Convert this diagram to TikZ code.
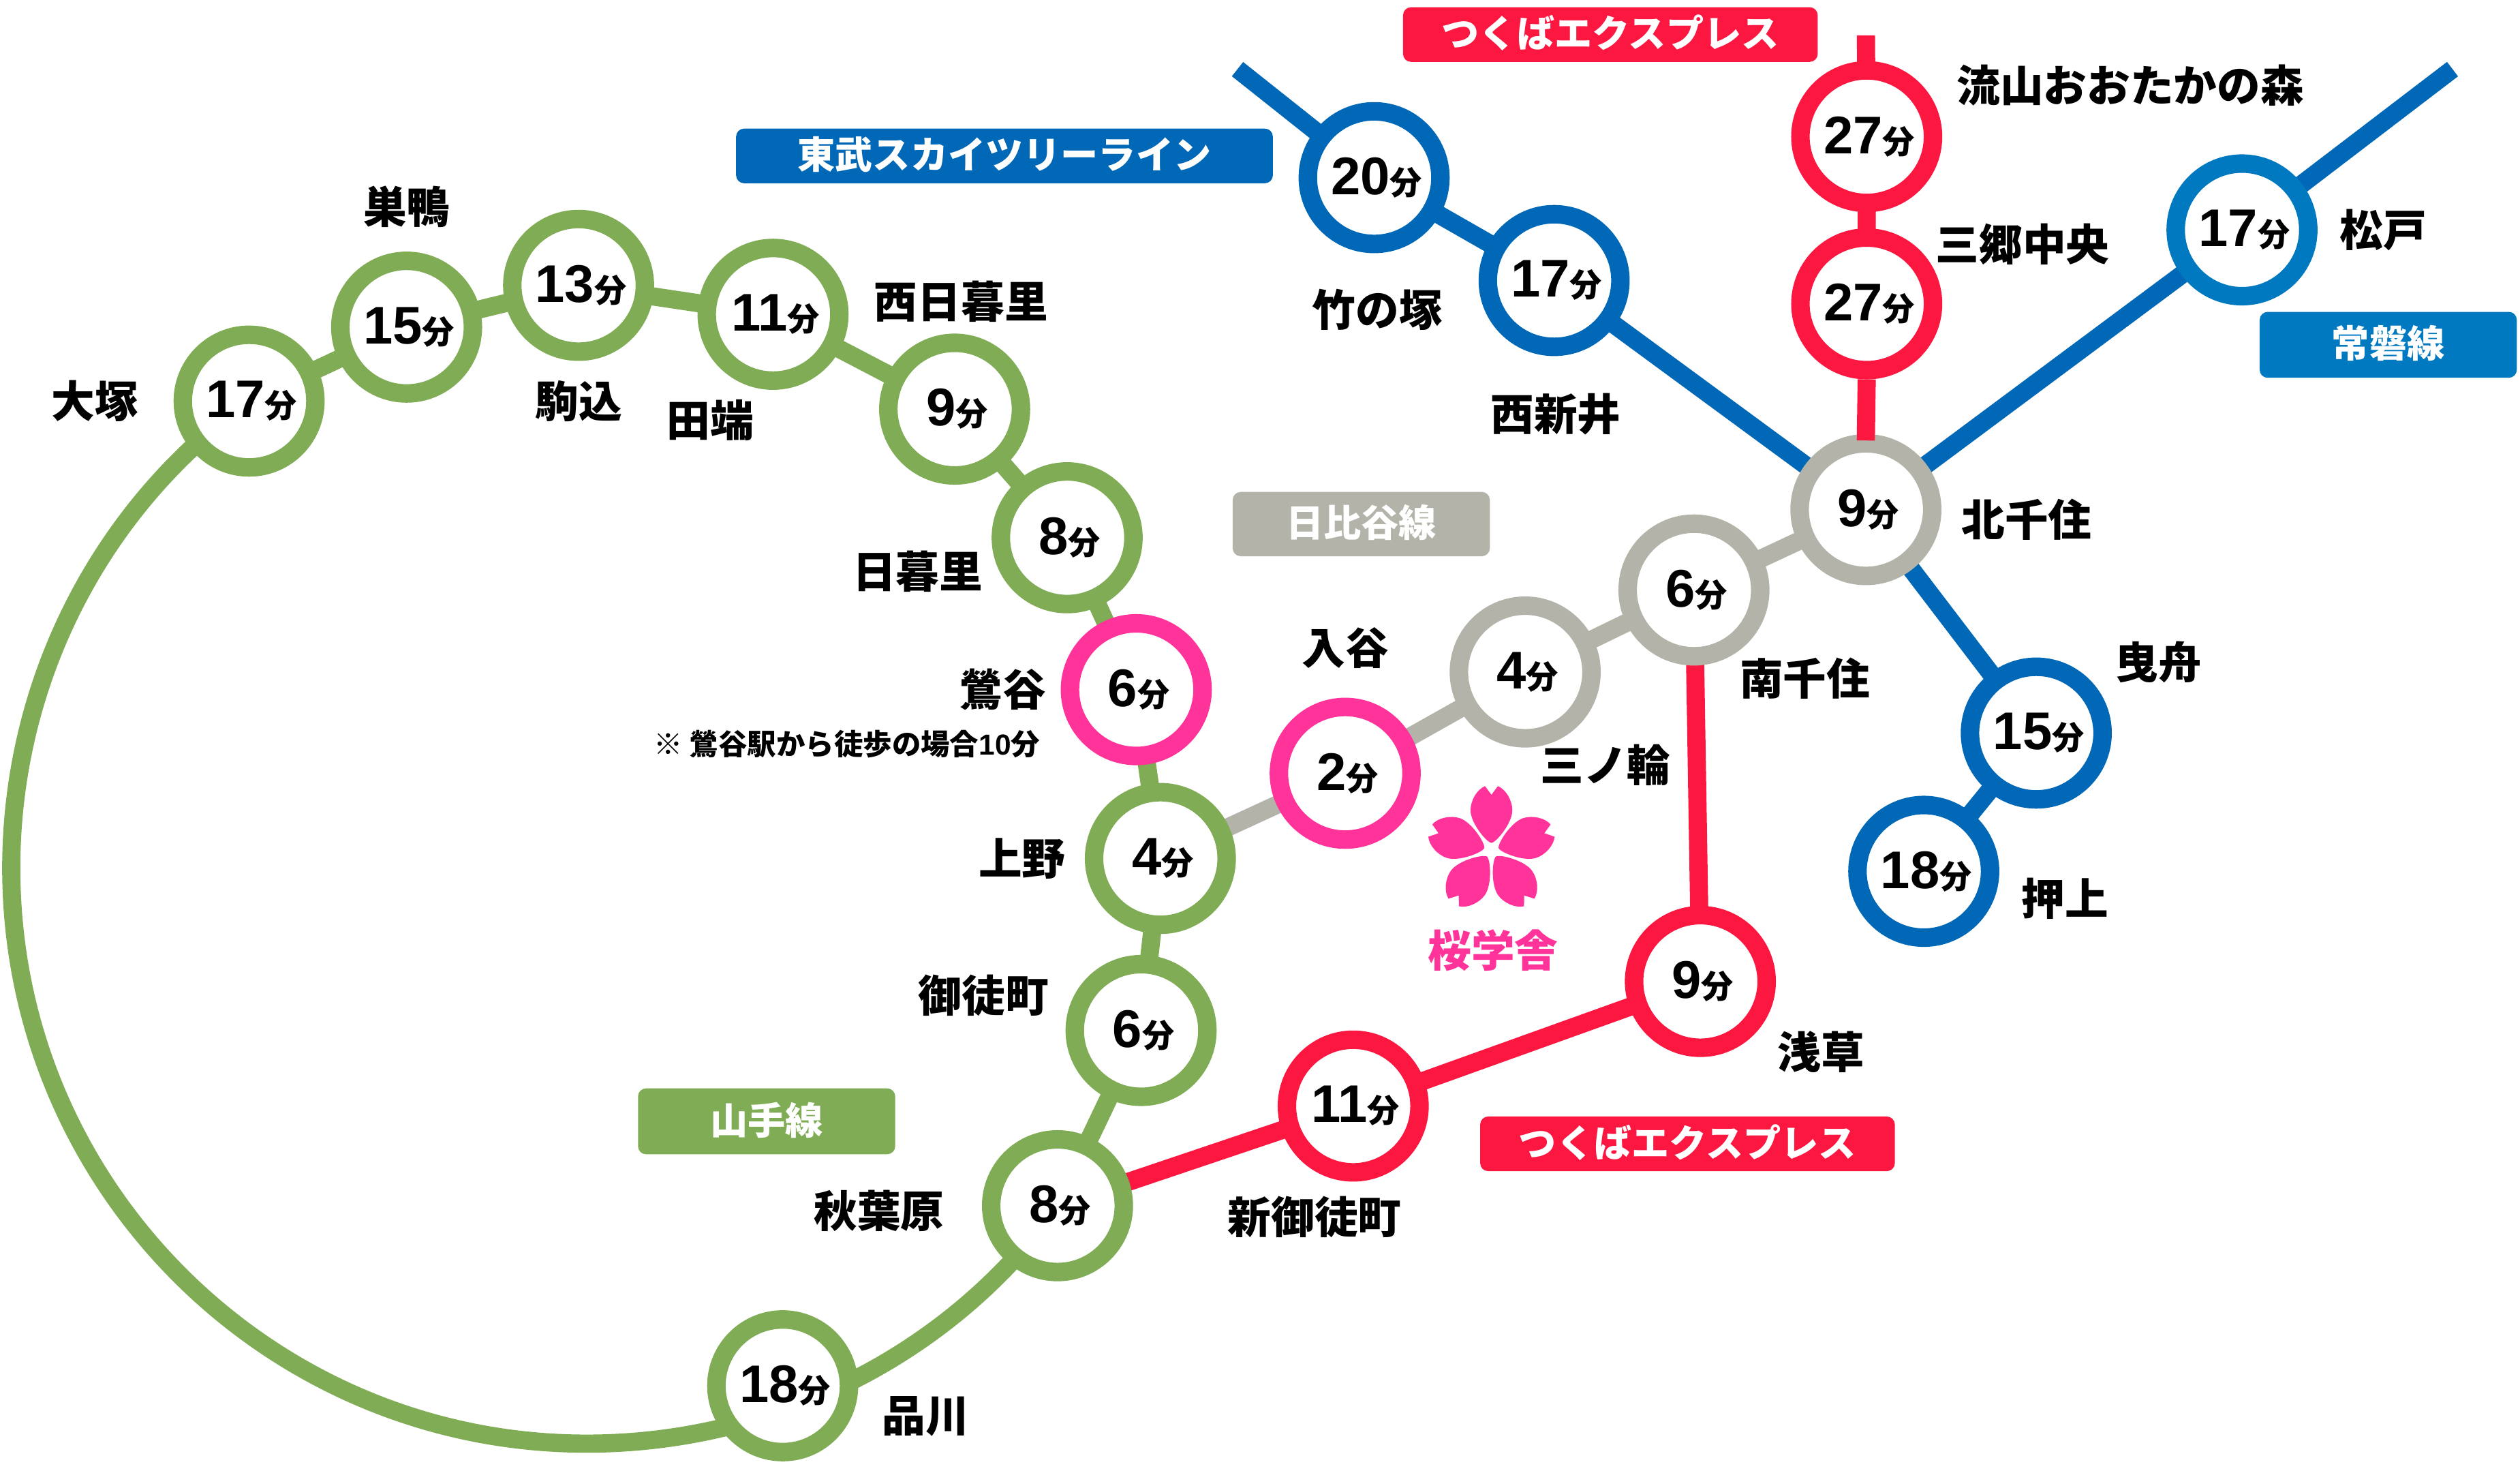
\documentclass[tikz,border=0pt]{standalone}
\usepackage{fontspec}
\setmainfont{Noto Sans CJK JP}
\newfontfamily\digitfont{Liberation Sans}
\usetikzlibrary{positioning,backgrounds}

\definecolor{yamanote}{HTML}{7FAC55}
\definecolor{sakura}{HTML}{FF3399}
\definecolor{hibiya}{HTML}{B3B3A9}
\definecolor{tobu}{HTML}{0068B7}
\definecolor{joban}{HTML}{0079C1}
\definecolor{tx}{HTML}{FC1741}

\newcommand{\mins}[1]{\kern3pt{\digitfont\fontsize{33}{33}\selectfont #1}{\fontsize{20}{20}\selectfont 分}}

\begin{document}
\begin{tikzpicture}
[
  x=1pt,
  y=-1pt,
  on grid,
  station/.style={circle,draw=#1,line width=11.5pt,fill=white,minimum size=82.5pt,inner sep=0pt,text=black},
  stationname/.style={font=\bfseries\fontsize{27}{27}\selectfont,inner sep=0pt},
  linename/.style={fill=#1,rounded corners=5pt,text=white,inner sep=0pt,minimum height=34pt,text depth=4pt,font=\bfseries\fontsize{23.4}{23.4}\selectfont},
  track/.style={draw=#1,line width=11.3pt},
  font=\bfseries
]
 \useasboundingbox (0,0) rectangle (1568,915);

 % yamanote line
 \node[station=yamanote] (ootsuka) at (155,249.5) {\mins{17}};
 \node[station=yamanote] (sugamo) at (253,203.5) {\mins{15}};
 \node[station=yamanote] (komagome) at (360,177.5) {\mins{13}};
 \node[station=yamanote] (tabata) at (481,195.5) {\mins{11}};
 \node[station=yamanote] (nishinippori) at (594,254.5) {\mins{9}};
 \node[station=yamanote] (nippori) at (664,334.5) {\mins{8}};
 \node[station=sakura] (uguisudani) at (707,429) {\mins{6}};
 \node[station=yamanote] (ueno) at (722,534) {\mins{4}};
 \node[station=yamanote] (okachimachi) at (710,641) {\mins{6}};
 \node[station=yamanote] (akihabara) at (658,750) {\mins{8}};
 \node[station=yamanote] (shinagawa) at (487,862) {\mins{18}};

 % hibiya line
 \node[station=sakura] (iriya) at (837,481) {\mins{2}};
 \node[station=hibiya] (minowa) at (949,418) {\mins{4}};
 \node[station=hibiya] (minamisenju) at (1054,367) {\mins{6}};
 \node[station=hibiya] (kitasenju) at (1161,317) {\mins{9}};

 % tsukuba express
 \node[station=tx] (shinokachimachi) at (842,688) {\mins{11}};
 \node[station=tx] (asakusa) at (1058,610.5) {\mins{9}};
 \node[station=tx] (misato) at (1161.5,189) {\mins{27}};
 \node[station=tx] (nagareyama) at (1161.5,85) {\mins{27}};

 % tobu and joban
 \node[station=tobu] (nishiarai) at (967,174.5) {\mins{17}};
 \node[station=tobu] (takenotsuka) at (855,110.5) {\mins{20}};
 \node[station=tobu] (hikifune) at (1267,456) {\mins{15}};
 \node[station=tobu] (oshiage) at (1197,542) {\mins{18}};
 \node[station=joban] (matsudo) at (1395,143) {\mins{17}};

 \coordinate (loopwest) at (7,540);
 \coordinate (loopsouth) at (365,898);
 \coordinate (tobuend) at (770,43);
 \coordinate (jobanend) at (1526,43);
 \coordinate (txend) at (1161,22);

 \begin{pgfonlayer}{background}
  \path[track=yamanote]
    (ootsuka.center) -- (sugamo.center) -- (komagome.center) -- (tabata.center) -- (nishinippori.center)
    -- (nippori.center) -- (uguisudani.center) -- (ueno.center) -- (okachimachi.center) -- (akihabara.center);
  \path[track=yamanote]
    (ootsuka.center) .. controls (61.7,316.3) and (7,425) .. (loopwest)
    .. controls (7,737.7) and (167.3,898) .. (loopsouth)
    .. controls (480.4,898) and (590.8,843.8) .. (akihabara.center);
  \path[track=hibiya] (ueno.center) -- (iriya.center) -- (minowa.center) -- (minamisenju.center) -- (kitasenju.center);
  \path[track=tx] (akihabara.center) -- (shinokachimachi.center) -- (asakusa.center) -- (minamisenju.center);
  \path[track=tx] (txend) -- (nagareyama.center) -- (misato.center);
  \path[track=tobu] (tobuend) -- (takenotsuka.center) -- (nishiarai.center) -- (kitasenju.center);
  \path[track=tobu] (jobanend) -- (matsudo.center) -- (kitasenju.center) -- (hikifune.center) -- (oshiage.center);
 \end{pgfonlayer}
 \path[track=tx,shorten >=-4pt] (misato.south) -- (kitasenju.north);

 \node[stationname] (ootsukaname) [left=96pt of ootsuka] {大塚};
 \node[stationname] (sugamoname) [above=75pt of sugamo] {巣鴨};
 \node[stationname] (komagomename) [below=72pt of komagome] {駒込};
 \node[stationname] (tabataname) [below left=66pt and 39pt of tabata] {田端};
 \node[stationname] (nishinipporiname) [above right=67pt and 4pt of nishinippori] {西日暮里};
 \node[stationname] (nipporiname) [below left=21pt and 93pt of nippori] {日暮里};
 \node[stationname] (uguisudaniname) [left=83pt of uguisudani] {鶯谷};
 \node[inner sep=0pt,font=\bfseries\fontsize{18}{18}\selectfont] (walknote) [below left=34pt and 180pt of uguisudani] {※ 鶯谷駅から徒歩の場合{\digitfont 10}分};
 \node[stationname] (uenoname) [left=86pt of ueno] {上野};
 \node[stationname] (okachimachiname) [above left=22pt and 98pt of okachimachi] {御徒町};
 \node[stationname] (akihabaraname) [below left=3pt and 111pt of akihabara] {秋葉原};
 \node[stationname] (shinagawaname) [below right=19pt and 89pt of shinagawa] {品川};
 \node[stationname] (shinokachimachiname) [below left=69pt and 24pt of shinokachimachi] {新御徒町};
 \node[stationname] (asakusaname) [below right=44pt and 75pt of asakusa] {浅草};
 \node[stationname] (minamisenjuname) [below right=55pt and 69pt of minamisenju] {南千住};
 \node[stationname] (minowaname) [below right=58pt and 50pt of minowa] {三ノ輪};
 \node[stationname] (iriyaname) [above=78pt of iriya] {入谷};
 \node[stationname] (kitasenjuname) [below right=6pt and 100pt of kitasenju] {北千住};
 \node[stationname] (hikifunename) [above right=44pt and 76pt of hikifune] {曳舟};
 \node[stationname] (oshiagename) [below right=17pt and 88pt of oshiage] {押上};
 \node[stationname] (matsudoname) [right=88pt of matsudo] {松戸};
 \node[stationname] (misatoname) [above right=37pt and 97pt of misato] {三郷中央};
 \node[stationname] (nagareyamaname) [above right=32pt and 164pt of nagareyama] {流山おおたかの森};
 \node[stationname] (takenotsukaname) [below right=82pt and 2pt of takenotsuka] {竹の塚};
 \node[stationname] (nishiarainame) [below right=83pt and 1pt of nishiarai] {西新井};

 \node[linename=tobu,minimum width=334pt] (tobulabel) at (625,97) {東武スカイツリーライン};
 \node[linename=tx,minimum width=258pt] (txtop) at (1002,21.5) {つくばエクスプレス};
 \node[linename=joban,minimum width=160pt,minimum height=41pt] (joblabel) at (1486,214.5) {常磐線};
 \node[linename=hibiya,minimum width=160pt,minimum height=40pt] (hibiyalabel) at (847,326) {日比谷線};
 \node[linename=yamanote,minimum width=160pt,minimum height=41pt] (yamanotelabel) at (477,697.5) {山手線};
 \node[linename=tx,minimum width=258pt] (txbottom) at (1050,711.5) {つくばエクスプレス};

 % flower
 \foreach \petal in {0,72,...,288}
  \fill[sakura,shift={(928,529)},rotate=\petal]
    (0,-4.7) .. controls (-3,-5) and (-13,-17) .. (-13,-25)
    .. controls (-13,-31) and (-9,-38) .. (-4,-40) -- (0,-34.6) -- (4,-40)
    .. controls (9,-38) and (13,-31) .. (13,-25)
    .. controls (13,-17) and (3,-5) .. (0,-4.7) -- cycle;
 \node[inner sep=0pt,text=sakura,font=\bfseries\fontsize{27}{27}\selectfont] (schoolname) at (929,591) {桜学舎};
\end{tikzpicture}
\end{document}
